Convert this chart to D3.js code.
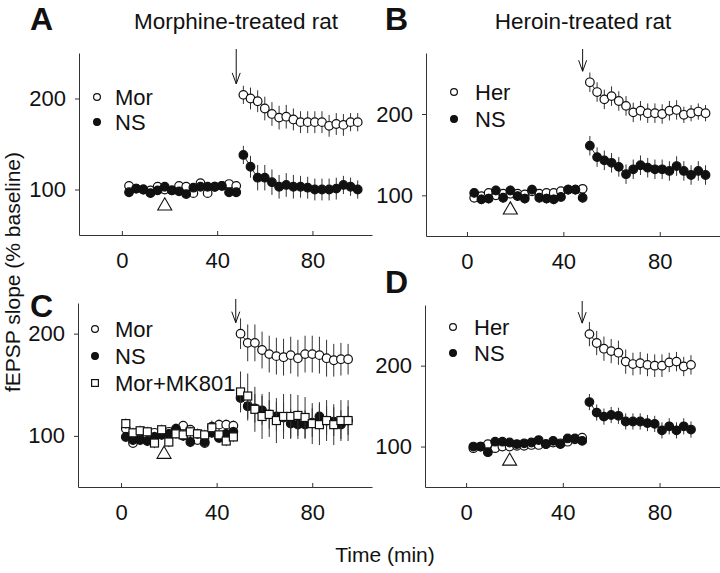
<!DOCTYPE html>
<html><head><meta charset="utf-8">
<script src="https://cdn.jsdelivr.net/npm/d3@7"></script>
<style>
body{margin:0;background:#fff}
text{font-family:"Liberation Sans",Arial,Helvetica,sans-serif;fill:#111}
</style>
</head><body>
<svg id="chart" width="720" height="573"></svg>
<script>
// ---------- time points (min) ----------
const baseTimes   = [3,6,9,12,15,18,21,24,27,30,33,36,39,42,45,48];
const baseTimesC  = [2,5,8,11,14,17,20,23,26,29,32,35,38,41,44,47];
const postTimesAB = [51,54,57,60,63,66,69,72,75,78,81,84,87,90,93,96,99];
const postTimesC  = [50,53,56,59,62,65,68,71,74,77,80,83,86,89,92,95];
const postTimesD  = [51,54,57,60,63,66,69,72,75,78,81,84,87,90,93];

const xTicks = [0,40,80];
const yTicks = [100,200];
const arrowTime = 48;      // drug / tetanus time marker
const triangleTime = 18;   // open triangle marker
const triangleValue = 82;

// ---------- Panel A: morphine-treated ----------
const A_morBase = [104,101,100,99,103,100,99,104,103,96,107,96,103,104,106,104];
const A_morBaseErr = [4,3,3,3,3,3,3,3,3,3,4,4,3,3,3,3];
const A_nsBase  = [97,101,100,96,99,103,99,98,95,102,103,103,103,104,97,97];
const A_nsBaseErr = [4,3,3,3,3,3,3,3,3,3,3,3,3,3,3,3];
const A_morPost = [204,200,197,189,183,179,180,177,174,174,174,174,170,172,171,174,174];
const A_morPostErr = [10,12,12,13,13,13,13,12,12,12,12,12,12,12,12,10,10];
const A_nsPost  = [138,125,113,113,108,103,105,103,103,102,100,100,100,101,105,103,100];
const A_nsPostErr = [10,12,14,14,14,13,13,13,12,12,12,12,12,12,10,10,10];

// ---------- Panel B: heroin-treated ----------
const B_herBase = [97,99,103,100,102,102,102,101,105,102,103,103,105,107,107,108];
const B_herBaseErr = [5,4,4,4,4,4,4,4,4,4,4,4,4,4,4,4];
const B_nsBase  = [103,95,96,106,97,106,99,96,107,97,96,95,98,107,107,97];
const B_nsBaseErr = [6,6,6,6,6,6,6,6,6,6,6,6,6,6,6,6];
const B_herPost = [239,227,218,222,216,210,202,204,201,201,200,204,205,199,201,203,201];
const B_herPostErr = [12,12,12,12,12,12,12,12,12,12,12,12,12,10,10,10,10];
const B_nsPost  = [161,147,143,140,135,126,132,137,134,132,132,130,136,130,125,130,125];
const B_nsPostErr = [12,12,12,12,12,12,12,12,12,12,12,12,12,12,12,12,12];

// ---------- Panel C: morphine + MK801 ----------
const C_morBase = [107,93,97,100,103,102,104,106,110,106,96,93,109,111,111,110];
const C_morBaseErr = [4,4,4,4,4,4,4,4,4,4,4,4,6,5,5,5];
const C_nsBase  = [99,96,96,95,99,101,102,107,100,94,102,94,103,98,102,104];
const C_nsBaseErr = [5,5,5,5,5,5,5,5,5,5,5,5,5,5,5,5];
const C_mkBase  = [112,103,105,104,93,106,94,102,101,104,102,101,108,101,95,99];
const C_mkBaseErr = [5,5,5,5,5,5,5,5,5,5,5,5,5,5,5,5];
const C_morPost = [200,191,191,184,180,178,177,179,176,180,180,179,176,174,175,175];
const C_morPostErr = [15,18,18,18,18,18,18,18,18,18,18,18,18,16,16,15];
const C_nsPost  = [137,129,127,125,121,119,118,112,111,111,113,119,115,114,111,115];
const C_nsPostErr = [12,14,14,14,14,14,14,14,14,14,14,14,14,14,14,14];
const C_mkPost  = [143,139,126,119,121,115,119,119,120,118,112,111,115,111,115,115];
const C_mkPostErr = [20,22,22,22,22,22,22,22,20,20,20,20,20,20,20,20];

// ---------- Panel D: heroin-treated ----------
const D_herBase = [98,100,103,98,100,100,101,101,102,102,103,105,104,106,109,111];
const D_herBaseErr = [3,3,3,3,3,3,3,3,3,3,3,3,3,3,3,3];
const D_nsBase  = [100,100,93,106,106,105,103,104,105,108,103,107,103,110,110,107];
const D_nsBaseErr = [4,4,4,4,4,4,4,4,4,4,4,4,4,4,4,4];
const D_herPost = [239,228,221,218,216,205,202,203,201,200,200,204,205,199,201];
const D_herPostErr = [15,15,15,15,15,15,14,14,14,14,14,12,12,12,12];
const D_nsPost  = [155,142,137,139,138,131,131,131,129,128,120,125,120,125,121];
const D_nsPostErr = [10,10,10,10,10,10,10,10,10,10,10,10,10,10,10];

// ---------- text ----------
const panelLetters = ["A","B","C","D"];
const panelTitles  = ["Morphine-treated rat","Heroin-treated rat"];
const xAxisLabel = "Time (min)";
const yAxisLabel = "fEPSP slope (% baseline)";

// ---------- layout ----------
const svg = d3.select("#chart");

function seg(times, vals, errs){ return times.map((t,i)=>({t, v:vals[i], e:errs[i]})); }

const panels = [
  { box:{left:79,right:372,top:53,bottom:235}, tDom:[-18,105], yDom:[50,250],
    letter:{x:30,y:30,t:panelLetters[0]}, legend:{x:97,y:97,dy:25,tx:18},
    series:[
      {name:"Mor", shape:"open", segs:[seg(baseTimes,A_morBase,A_morBaseErr), seg(postTimesAB,A_morPost,A_morPostErr)]},
      {name:"NS", shape:"filled", segs:[seg(baseTimes,A_nsBase,A_nsBaseErr), seg(postTimesAB,A_nsPost,A_nsPostErr)]}
    ]},
  { box:{left:426,right:720,top:53,bottom:236}, tDom:[-17,105], yDom:[50,275],
    letter:{x:385,y:30,t:panelLetters[1]}, legend:{x:454,y:92,dy:27,tx:21},
    series:[
      {name:"Her", shape:"open", segs:[seg(baseTimes,B_herBase,B_herBaseErr), seg(postTimesAB,B_herPost,B_herPostErr)]},
      {name:"NS", shape:"filled", segs:[seg(baseTimes,B_nsBase,B_nsBaseErr), seg(postTimesAB,B_nsPost,B_nsPostErr)]}
    ]},
  { box:{left:78,right:372,top:303,bottom:487}, tDom:[-18,105], yDom:[50,230],
    letter:{x:30,y:317,t:panelLetters[2]}, legend:{x:95,y:329,dy:27,tx:20},
    series:[
      {name:"Mor", shape:"open", segs:[seg(baseTimesC,C_morBase,C_morBaseErr), seg(postTimesC,C_morPost,C_morPostErr)]},
      {name:"NS", shape:"filled", segs:[seg(baseTimesC,C_nsBase,C_nsBaseErr), seg(postTimesC,C_nsPost,C_nsPostErr)]},
      {name:"Mor+MK801", shape:"square", segs:[seg(baseTimesC,C_mkBase,C_mkBaseErr), seg(postTimesC,C_mkPost,C_mkPostErr)]}
    ]},
  { box:{left:425,right:720,top:305,bottom:487}, tDom:[-17,105], yDom:[50,275],
    letter:{x:385,y:293,t:panelLetters[3]}, legend:{x:453,y:327,dy:26,tx:21},
    series:[
      {name:"Her", shape:"open", segs:[seg(baseTimes,D_herBase,D_herBaseErr), seg(postTimesD,D_herPost,D_herPostErr)]},
      {name:"NS", shape:"filled", segs:[seg(baseTimes,D_nsBase,D_nsBaseErr), seg(postTimesD,D_nsPost,D_nsPostErr)]}
    ]}
];

const INK = "#111";

function marker(g, shape, cx, cy, big){
  const r = big ? 4.3 : 3.4;
  if (shape === "square"){
    const s = big ? 8 : 6.8;
    g.append("rect").attr("x",cx-s/2).attr("y",cy-s/2).attr("width",s).attr("height",s)
      .attr("fill","#fff").attr("stroke",INK).attr("stroke-width",1.2);
  } else {
    g.append("circle").attr("cx",cx).attr("cy",cy).attr("r",r)
      .attr("fill", shape==="filled" ? INK : "#fff")
      .attr("stroke",INK).attr("stroke-width",1.2);
  }
}

panels.forEach(p=>{
  const b = p.box;
  const x = d3.scaleLinear().domain(p.tDom).range([b.left,b.right]);
  const y = d3.scaleLinear().domain(p.yDom).range([b.bottom,b.top]);
  const g = svg.append("g");

  // axes
  const ax = g.append("g").attr("transform",`translate(0,${b.bottom})`)
    .call(d3.axisBottom(x).tickValues(xTicks).tickSizeInner(-4).tickSizeOuter(0).tickPadding(17).tickFormat(d3.format("d")));
  const ay = g.append("g").attr("transform",`translate(${b.left},0)`)
    .call(d3.axisLeft(y).tickValues(yTicks).tickSizeInner(4).tickSizeOuter(0).tickPadding(9).tickFormat(d3.format("d")));
  [ax,ay].forEach(a=>{
    a.selectAll("path,line").attr("stroke","#333").attr("stroke-width",1);
    a.selectAll("text").attr("font-size",22).attr("fill","#111")
      .attr("font-family",'"Liberation Sans",Arial,sans-serif');
  });

  // series
  p.series.forEach(s=>{
    const sg = g.append("g");
    s.segs.forEach(sd=>{
      sg.append("path").datum(sd)
        .attr("d", d3.line().x(d=>x(d.t)).y(d=>y(d.v)))
        .attr("fill","none").attr("stroke",INK).attr("stroke-width",0.9);
      sg.selectAll(null).data(sd).enter().append("line")
        .attr("x1",d=>x(d.t)).attr("x2",d=>x(d.t))
        .attr("y1",d=>y(d.v-d.e)).attr("y2",d=>y(d.v+d.e))
        .attr("stroke","#333").attr("stroke-width",1);
      sd.forEach(d=>marker(sg, s.shape, x(d.t), y(d.v), true));
    });
  });

  // arrow marker
  const firstPost = d3.max(p.series, s=>s.segs[1][0].v);
  const ax0 = x(arrowTime), aTop = b.top - 4, aTip = y(firstPost) - 11;
  g.append("line").attr("x1",ax0).attr("x2",ax0).attr("y1",aTop).attr("y2",aTip)
    .attr("stroke",INK).attr("stroke-width",1);
  g.append("path").attr("d",`M${ax0-4},${aTip-11}L${ax0},${aTip}L${ax0+4},${aTip-11}`)
    .attr("fill","none").attr("stroke",INK).attr("stroke-width",1);

  // triangle marker
  g.append("path").attr("d", d3.symbol().type(d3.symbolTriangle).size(85)())
    .attr("transform",`translate(${x(triangleTime)},${y(triangleValue)})`)
    .attr("fill","#fff").attr("stroke",INK).attr("stroke-width",1.1);

  // legend
  p.series.forEach((s,i)=>{
    const ly = p.legend.y + i*p.legend.dy;
    marker(g, s.shape, p.legend.x, ly, false);
    g.append("text").attr("x",p.legend.x+p.legend.tx).attr("y",ly+8)
      .attr("font-size",22).text(s.name);
  });

  // panel letter
  g.append("text").attr("x",p.letter.x).attr("y",p.letter.y)
    .attr("font-size",32).attr("font-weight","bold").attr("fill","#000").text(p.letter.t);
});

// titles
svg.append("text").attr("x",236).attr("y",29).attr("text-anchor","middle").attr("font-size",22.5).text(panelTitles[0]);
svg.append("text").attr("x",583).attr("y",29).attr("text-anchor","middle").attr("font-size",22.5).text(panelTitles[1]);

// axis labels
svg.append("text").attr("x",385).attr("y",562).attr("text-anchor","middle").attr("font-size",21).text(xAxisLabel);
svg.append("text").attr("transform","translate(20,272) rotate(-90)").attr("text-anchor","middle")
  .attr("font-size",21).text(yAxisLabel);
</script>
</body></html>
